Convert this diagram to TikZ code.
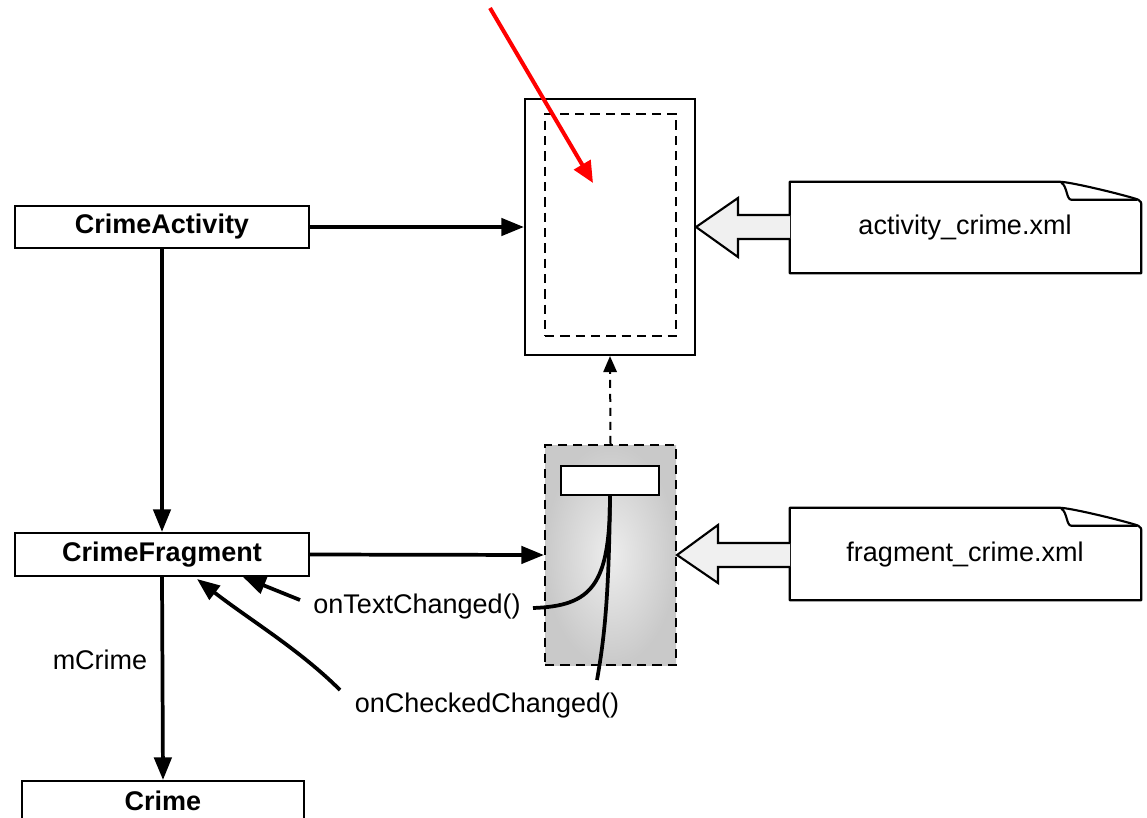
\documentclass[tikz,border=0pt]{standalone}
\usepackage{fontspec}
\setmainfont{Liberation Sans}
\usetikzlibrary{arrows.meta,calc}
\begin{document}
\begin{tikzpicture}[x=0.75pt,y=-0.75pt,
  txt/.style={font=\fontsize{20.25pt}{24pt}\selectfont,inner sep=0},
  classbox/.style={draw,line width=1.6pt,fill=white,font=\fontsize{20.25pt}{24pt}\selectfont\bfseries,minimum width=220.5pt,minimum height=31.5pt,inner sep=0},
  conn/.style={line width=2.8pt,-{Triangle[length=17pt,width=13pt]}},
  dconn/.style={line width=1.5pt,dash pattern=on 6pt off 4.5pt,-{Triangle[length=12pt,width=10pt]}},
  dashbox/.style={draw,line width=1.6pt,dash pattern=on 7pt off 4.5pt,inner sep=0},
  docline/.style={draw,line width=1.6pt,fill=white,line join=round}]
\useasboundingbox (0,0) rectangle (1147,818);

% class boxes
\node[classbox] (ca) at (162,227) {CrimeActivity};
\node[classbox,minimum height=32.25pt] (cf) at (162,554.5) {CrimeFragment};
\node[classbox,minimum width=211.5pt,minimum height=52.5pt,anchor=north] (cr) at (163,780) {};
\node[font=\fontsize{20.25pt}{24pt}\selectfont\bfseries,inner sep=0] (crl) at (163,801) {Crime};

% activity layout
\node[draw,line width=1.6pt,minimum width=127.5pt,minimum height=192pt,inner sep=0] (act) at (610,227) {};
\node[dashbox,minimum width=98.25pt,minimum height=166.5pt] (actin) at (610.5,225) {};

% fragment layout
\node[dashbox,shading=radial,inner color=gray!14,outer color=gray!42,minimum width=98.25pt,minimum height=165pt] (frag) at (610.5,555) {};
\node[draw,line width=1.6pt,fill=white,minimum width=73.5pt,minimum height=21.75pt,inner sep=0] (field) at (610,480.5) {};

% widget connections
\coordinate (fs) at (610,495);
\coordinate (tcend) at (533,608);
\coordinate (ccend) at (597,680);
\draw[line width=2.8pt] (fs) .. controls (610,585) and (592,606) .. (tcend);
\draw[line width=2.8pt] (fs) .. controls (609,600) and (604,640) .. (ccend);

% xml documents
\node[minimum width=263.25pt,minimum height=68.25pt,inner sep=0] (adoc) at (965.5,227.5) {};
\node[minimum width=263.25pt,minimum height=69pt,inner sep=0] (fdoc) at (965.5,554) {};

\foreach \d in {adoc,fdoc}{
  \draw[docline] (\d.south west) -- (\d.north west) -- ($(\d.north east)+(-82,0)$)
     .. controls ($(\d.north east)+(-70,0)$) and ($(\d.north east)+(-10,15)$) .. ($(\d.north east)+(-3,18)$)
     .. controls ($(\d.north east)+(0,20)$) .. ($(\d.north east)+(0,25)$) -- (\d.south east) -- cycle;
  \draw[line width=1.6pt,line join=round] ($(\d.north east)+(-80,1)$) .. controls ($(\d.north east)+(-74,4)$) and ($(\d.north east)+(-75,18)$) .. ($(\d.north east)+(-70,18)$) -- ($(\d.north east)+(-4,18)$);
}

% hollow arrows
\fill[gray!12] (790,215) -- (738,215) -- (738,198) -- (697,227) -- (738,257) -- (738,239) -- (790,239) -- cycle;
\draw[line width=1.6pt,line join=miter] (790,215) -- (738,215) -- (738,198) -- (act.east) -- (738,257) -- (738,239) -- (790,239);
\fill[gray!12] (790,543) -- (718,543) -- (718,525) -- (678,554) -- (718,583) -- (718,567) -- (790,567) -- cycle;
\draw[line width=1.6pt,line join=miter] (790,543) -- (718,543) -- (718,525) -- (frag.east) -- (718,583) -- (718,567) -- (790,567);

\node[txt] (atxt) at (965,228) {activity\_crime.xml};
\node[txt] (ftxt) at (965,555) {fragment\_crime.xml};

% connectors
\draw[conn] (ca.east) -- (act.west);
\draw[conn] (ca.south) -- (cf.north);
\draw[conn] (cf.east) -- (frag.west);
\draw[conn] (cf.south) -- (cr.north);
\draw[dconn] (frag.north) -- (act.south);

% labels
\node[txt] (mc) at (100,660) {mCrime};
\node[txt] (otc) at (417,607) {onTextChanged()};
\node[txt] (occ) at (487,706) {onCheckedChanged()};

\coordinate (tcs) at (300,600);
\coordinate (tct) at (243,577);
\coordinate (ccs) at (340,690);
\coordinate (cct) at (197,579);
\draw[conn] (tcs) -- (tct);
\draw[conn] (ccs) .. controls (300,650) and (250,620) .. (cct);

% red pointer
\coordinate (rs) at (490,8);
\coordinate (re) at (593,183);
\draw[red,line width=3pt,-{Triangle[length=16pt,width=14pt]}] (rs) -- (re);
\end{tikzpicture}
\end{document}
